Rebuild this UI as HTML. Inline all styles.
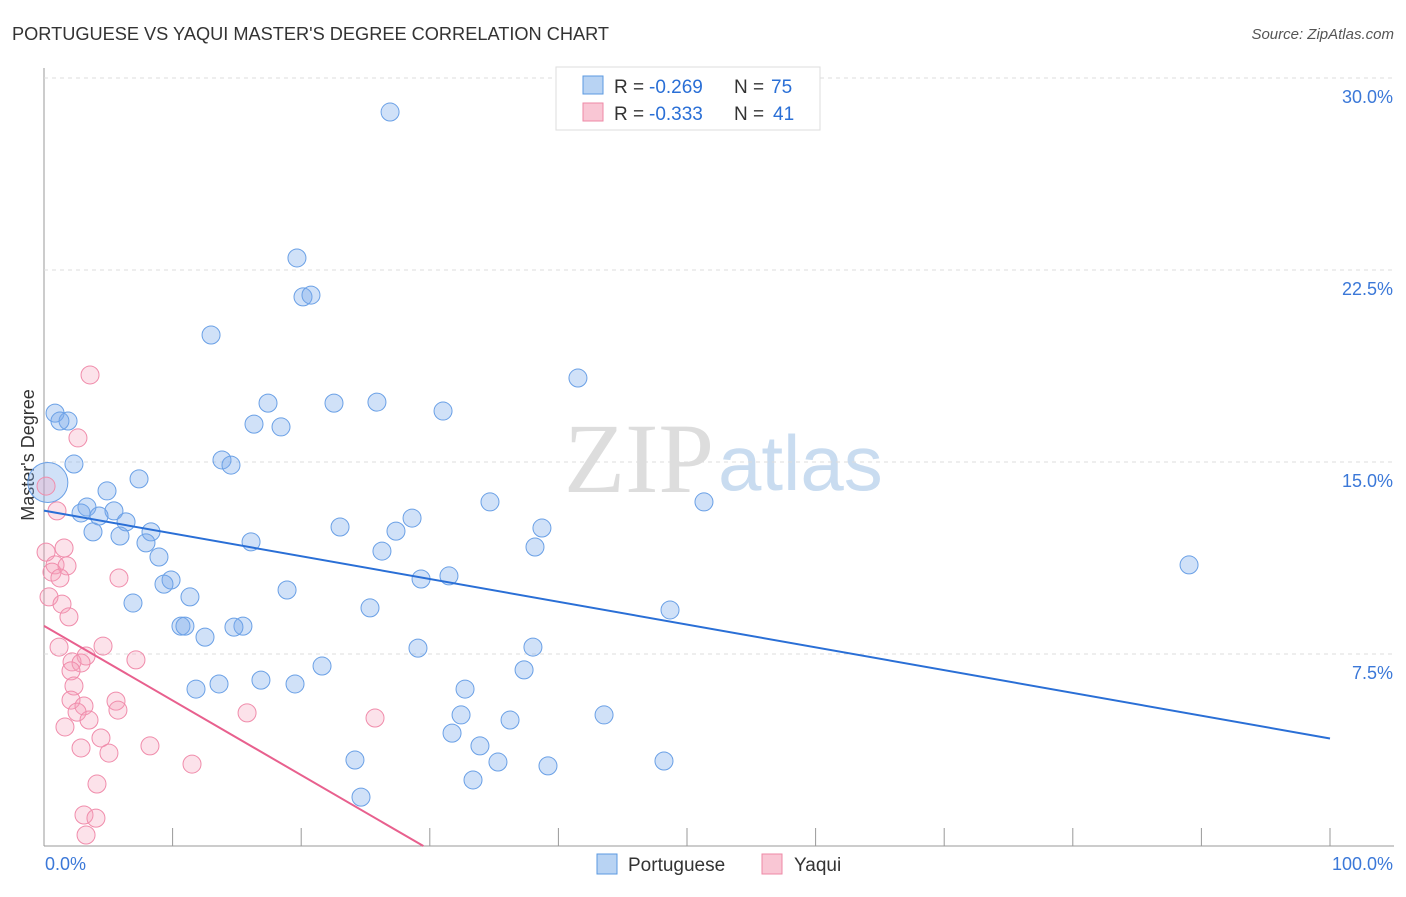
<!DOCTYPE html>
<html><head><meta charset="utf-8"><style>
body{margin:0;background:#fff;font-family:"Liberation Sans",sans-serif}
svg text{font-family:"Liberation Sans",sans-serif}
</style></head><body>
<svg width="1406" height="892" xmlns="http://www.w3.org/2000/svg" id="svg">
<text x="12" y="40" font-size="18.2" fill="#333">PORTUGUESE VS YAQUI MASTER'S DEGREE CORRELATION CHART</text>
<text x="1394" y="39" font-size="15" fill="#555" font-style="italic" text-anchor="end">Source: ZipAtlas.com</text>
<text x="714" y="492" font-size="100" fill="#ddd" text-anchor="end" font-family="Liberation Serif" style="font-family:'Liberation Serif',serif">ZIP</text>
<text x="718" y="490" font-size="78" fill="#c9dcf0">atlas</text>
<text transform="translate(34,455) rotate(-90)" font-size="18" fill="#333" text-anchor="middle">Master's Degree</text>
<g id="grid"></g><g id="pts"></g><g id="lines"></g>
<g>
<rect x="556" y="67" width="264" height="63" fill="#fff" stroke="#ddd"/>
<rect x="583" y="76" width="20" height="18" fill="#b8d3f3" stroke="#5b9ae0"/>
<rect x="583" y="103" width="20" height="18" fill="#f9c6d4" stroke="#ee88a6"/>
<text x="614" y="93" font-size="19" fill="#333">R =</text>
<text x="649" y="93" font-size="19" fill="#2a6fd6">-0.269</text>
<text x="734" y="93" font-size="19" fill="#333">N =</text>
<text x="771" y="93" font-size="19" fill="#2a6fd6">75</text>
<text x="614" y="120" font-size="19" fill="#333">R =</text>
<text x="649" y="120" font-size="19" fill="#2a6fd6">-0.333</text>
<text x="734" y="120" font-size="19" fill="#333">N =</text>
<text x="773" y="120" font-size="19" fill="#2a6fd6">41</text>
</g>
<g>
<rect x="597" y="854" width="20" height="20" fill="#b8d3f3" stroke="#5b9ae0"/>
<text x="628" y="871" font-size="19" fill="#333">Portuguese</text>
<rect x="762" y="854" width="20" height="20" fill="#f9c6d4" stroke="#ee88a6"/>
<text x="794" y="871" font-size="19" fill="#333">Yaqui</text>
</g>
</svg>
<script>
const yTicks=[7.5,15,22.5,30];
const xTickLabels=["0.0%","100.0%"];
const bluePx=[[390,112],[297,258],[303,297],[311,295],[211,335],[578,378],[55,413],[68,421],[60,421],[268,403],[334,403],[377,402],[443,411],[254,424],[281,427],[222,460],[231,465],[74,464],[139,479],[107,491],[87,507],[81,513],[114,511],[99,516],[126,522],[93,532],[120,536],[151,532],[146,543],[159,557],[490,502],[704,502],[412,518],[340,527],[396,531],[542,528],[251,542],[382,551],[535,547],[1189,565],[171,580],[164,584],[421,579],[449,576],[287,590],[190,597],[133,603],[370,608],[670,610],[181,626],[185,626],[243,626],[234,627],[205,637],[418,648],[533,647],[322,666],[524,670],[261,680],[219,684],[196,689],[295,684],[465,689],[461,715],[604,715],[510,720],[452,733],[480,746],[355,760],[498,762],[664,761],[548,766],[473,780],[361,797]];
const pinkPx=[[90,375],[78,438],[46,486],[57,511],[64,548],[46,552],[55,565],[67,566],[52,572],[60,578],[119,578],[49,597],[62,604],[69,617],[103,646],[59,647],[86,656],[136,660],[72,662],[81,663],[71,671],[74,686],[71,700],[116,701],[84,706],[77,712],[118,710],[247,713],[375,718],[89,720],[65,727],[101,738],[150,746],[81,748],[109,753],[192,764],[97,784],[84,815],[96,818],[86,835]];
const blueX2=bluePx.map(p=>+((p[0]-44)/12.86).toFixed(2)), blueY=bluePx.map(p=>+((846-p[1])/25.6).toFixed(2));
const pinkX=pinkPx.map(p=>+((p[0]-44)/12.86).toFixed(2)), pinkY=pinkPx.map(p=>+((846-p[1])/25.6).toFixed(2));
const blueLine=[13.1,4.2], pinkLine=[8.6,0];
const pinkLineEnd=29.5;
const X=v=>44+v*12.86, Y=v=>846-v*25.6;
const NS="http://www.w3.org/2000/svg";
function mk(t,a,p){const e=document.createElementNS(NS,t);for(const k in a)e.setAttribute(k,a[k]);document.getElementById(p).appendChild(e);return e;}
let e=mk('line',{x1:44,y1:68,x2:44,y2:846,stroke:'#999'},'grid');

e=mk('line',{x1:44,y1:846,x2:1394,y2:846,stroke:'#999'},'grid');

for(let i=1;i<=10;i++){e=mk('line',{x1:X(i*10),y1:846,x2:X(i*10),y2:828,stroke:'#999'},'grid');
}
yTicks.forEach(t=>{e=mk('line',{x1:44,y1:Y(t),x2:1394,y2:Y(t),stroke:'#ddd','stroke-dasharray':'4,4'},'grid');

e=mk('text',{x:1393,y:Y(t)+25,'font-size':18,fill:'#3b78d8','text-anchor':'end'},'grid');e.textContent=t.toFixed(1)+'%';
});
e=mk('text',{x:45,y:870,'font-size':18,fill:'#3b78d8'},'grid');e.textContent=xTickLabels[0];

e=mk('text',{x:1393,y:870,'font-size':18,fill:'#3b78d8','text-anchor':'end'},'grid');e.textContent=xTickLabels[1];

e=mk('circle',{cx:X(0.3),cy:Y(14.2),r:20,fill:'rgba(120,170,235,0.35)',stroke:'#6aa0e6'},'pts');

blueX2.forEach((x,i)=>{e=mk('circle',{cx:X(x),cy:Y(blueY[i]),r:9,fill:'rgba(120,170,235,0.35)',stroke:'#6aa0e6'},'pts');
});
pinkX.forEach((x,i)=>{e=mk('circle',{cx:X(x),cy:Y(pinkY[i]),r:9,fill:'rgba(245,160,185,0.3)',stroke:'#f08cab'},'pts');
});
e=mk('line',{x1:X(0),y1:Y(blueLine[0]),x2:X(100),y2:Y(blueLine[1]),stroke:'#2a6fd6','stroke-width':2},'lines');

e=mk('line',{x1:X(0),y1:Y(pinkLine[0]),x2:X(pinkLineEnd),y2:Y(pinkLine[1]),stroke:'#e8608e','stroke-width':2},'lines');

</script>
</body></html>
